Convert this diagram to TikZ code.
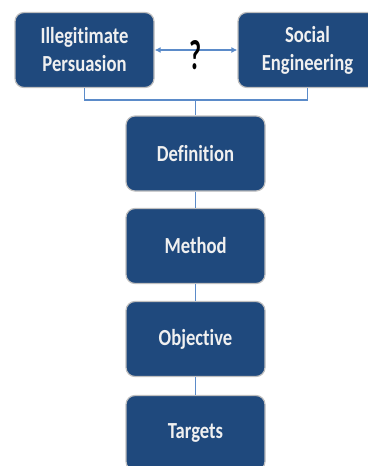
\documentclass[tikz,border=0pt]{standalone}
\usepackage{fontspec}
\setmainfont{Carlito}
\newfontfamily\boxfont[FakeStretch=0.81, Ligatures=NoCommon, UprightFont=*-Bold]{Carlito}
\newfontfamily\qfont[FakeStretch=0.62, UprightFont=*-Bold]{Carlito}
\usepackage{xcolor}
\definecolor{Deep Navy}{HTML}{1F497D}
\definecolor{Steel Sky}{HTML}{5B8BC9}
\colorlet{cBox}{Deep Navy}
\colorlet{cLink}{Steel Sky}
\usepackage{tikz}
\usetikzlibrary{calc, positioning, arrows.meta}
\tikzset{
	x = 1pt,
	y = -1pt,
	block/.style={
		draw=black!25,
		line width=1.2pt,
		fill=cBox,
		rounded corners=9pt,
		minimum width=139pt,
		minimum height=75pt,
		text=white!94!black,
		align=center,
		inner sep=2pt,
		font=\boxfont\fontsize{23}{28}\selectfont
	},
	link/.style={
		draw=cLink,
		line width=1.4pt
	},
	both ways/.style={
		link,
		{Latex[length=6pt,width=6pt]}-{Latex[length=6pt,width=6pt]}
	}
}

\begin{document}
\begin{tikzpicture}
		\useasboundingbox (0,0) rectangle (367,466);

		\node[block] at (84.5,50) (ill) {Illegitimate\\Persuasion};
		\node[block] at (307.5,50) (soc) {Social\\Engineering};

		\node[block] at (195.5,153.5) (def) {Definition};
		\node[block] at (195.5,246) (meth) {Method};
		\node[block] at (195.5,339) (obj) {Objective};
		\node[block] at (195.5,433) (tgt) {Targets};

		\draw[both ways] (ill.east) -- (soc.west);
		\node[font=\qfont\fontsize{42}{42}\selectfont] at (196,55) (q) {?};

		% bracket joining the two terms
		\coordinate (joint) at (195.5,100);
		\draw[link] (ill.south) |- (joint) -| (soc.south);
		\draw[link] (joint) -- (def.north);

		\draw[link] (def) -- (meth);
		\draw[link] (meth) -- (obj);
		\draw[link] (obj) -- (tgt);
	\end{tikzpicture}
\end{document}
